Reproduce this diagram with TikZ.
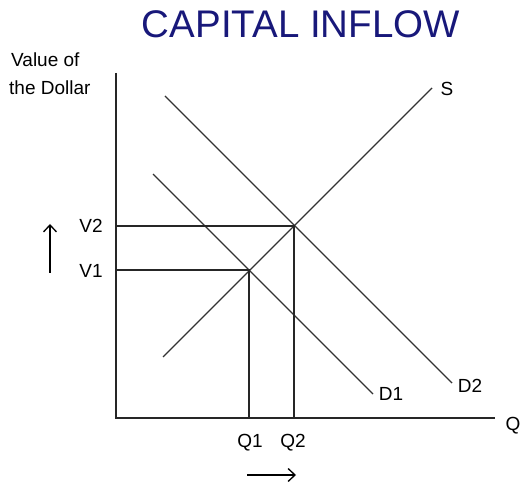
\documentclass[tikz,border=0pt]{standalone}
\usepackage{fontspec}
\setmainfont{Liberation Sans}
\usetikzlibrary{arrows.meta}
\definecolor{titleblue}{RGB}{24,24,122}
\begin{document}
\begin{tikzpicture}[x=1pt,y=-1pt,
  lab/.style={inner sep=0pt,font=\fontsize{19}{22}\selectfont},
  axisline/.style={line width=1.6pt,color=black!85},
  curve/.style={line width=1.4pt,color=black!80},
  guide/.style={line width=1.5pt,color=black!85},
  shiftarrow/.style={line width=1.3pt,-{Straight Barb[length=7pt,width=13pt,line width=1.3pt]}}]
\useasboundingbox (0,0) rectangle (522,486);
% title
\node[inner sep=0pt,text=titleblue,font=\fontsize{38.5}{44}\selectfont] (title) at (301,24) {CAPITAL INFLOW};
% axes
\coordinate (O) at (116,418);
\coordinate (ytop) at (116,73);
\coordinate (xend) at (495,418);
\draw[axisline] (ytop) -- (O) -- (xend);
\node[lab,anchor=west] (yl1) at (11,60) {Value of};
\node[lab,anchor=west] (yl2) at (9,88) {the Dollar};
\node[lab] (Q) at (513,426) {Q};
% curves
\coordinate (S0) at (163,357);
\coordinate (S1) at (432,88);
\coordinate (D1a) at (153,174);
\coordinate (D1b) at (373,394);
\coordinate (D2a) at (165,96);
\coordinate (D2b) at (452,383);
\draw[curve] (S0) -- (S1);
\draw[curve] (D1a) -- (D1b);
\draw[curve] (D2a) -- (D2b);
\node[lab] (Sl) at (447,89) {S};
\node[lab] (D1l) at (391,394) {D1};
\node[lab] (D2l) at (470,386) {D2};
% equilibria
\coordinate (E1) at (249,270);
\coordinate (E2) at (294,226);
\coordinate (V1a) at (116,270);
\coordinate (V2a) at (116,226);
\coordinate (Q1a) at (249,418);
\coordinate (Q2a) at (294,418);
\draw[guide] (V1a) -- (E1) -- (Q1a);
\draw[guide] (V2a) -- (E2) -- (Q2a);
\node[lab] (V1) at (91,271) {V1};
\node[lab] (V2) at (91,226) {V2};
\node[lab] (Q1) at (250,443) {Q1};
\node[lab] (Q2) at (293,443) {Q2};
% shift arrows
\coordinate (ua0) at (50,273);
\coordinate (ua1) at (50,224);
\draw[shiftarrow] (ua0) -- (ua1);
\coordinate (ra0) at (247,475);
\coordinate (ra1) at (296,475);
\draw[shiftarrow] (ra0) -- (ra1);
\end{tikzpicture}
\end{document}
